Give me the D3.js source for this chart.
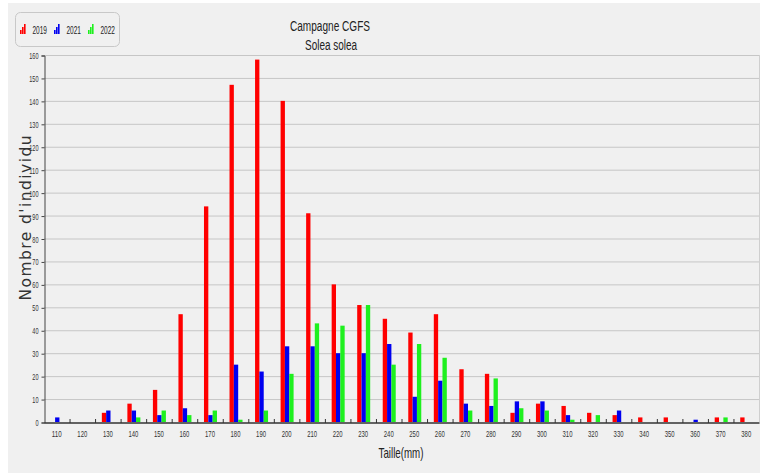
<!DOCTYPE html>
<html>
<head>
<meta charset="utf-8">
<script src="https://cdn.jsdelivr.net/npm/d3@7"></script>
<style>
  html, body { margin: 0; padding: 0; background: #ffffff; }
  svg { display: block; }
  .narrow { font-family: "Liberation Sans Narrow", "Liberation Sans", Arial, sans-serif; }
</style>
</head>
<body>
<svg id="chart" width="763" height="473"></svg>
<script>
// Length classes (mm)
const tailles = [110, 120, 130, 140, 150, 160, 170, 180, 190, 200, 210, 220, 230, 240,
                 250, 260, 270, 280, 290, 300, 310, 320, 330, 340, 350, 360, 370, 380];

// Number of individuals per length class, one array per survey year
const n2019 = [0, 0, 4, 8, 14, 47, 94, 147, 158, 140, 91, 60, 51, 45,
               39, 47, 23, 21, 4, 8, 7, 4, 3, 2, 2, 0, 2, 2];
const n2021 = [2, 0, 5, 5, 3, 6, 3, 25, 22, 33, 33, 30, 30, 34,
               11, 18, 8, 7, 9, 9, 3, 0, 5, 0, 0, 1, 0, 0];
const n2022 = [0, 0, 0, 2, 5, 3, 5, 1, 5, 21, 43, 42, 51, 25,
               34, 28, 5, 19, 6, 5, 1, 3, 0, 0, 0, 0, 2, 0];

const annees = ["2019", "2021", "2022"];
const couleurs = ["#ff0000", "#0000f0", "#1ef01e"];
const yTicks = d3.range(0, 161, 10);

const series = [n2019, n2021, n2022];
const rows = tailles.map((t, i) => ({ taille: t, values: series.map((s, k) => ({ annee: annees[k], v: s[i] })) }));

const svg = d3.select("#chart");

// Condensed text: squeeze glyphs to a given width per character
function condense(sel, perChar) {
  sel.each(function () {
    const t = d3.select(this);
    const n = t.text().length;
    t.attr("textLength", n * perChar).attr("lengthAdjust", "spacingAndGlyphs");
  });
}

// Background panel
svg.append("rect").attr("x", 8).attr("y", 3).attr("width", 752).attr("height", 470).attr("fill", "#f0f0f0");

const plotLeft = 44, plotRight = 759, plotTop = 55, plotBottom = 422;

const x = d3.scaleBand().domain(tailles).range([plotLeft, plotRight]).padding(0);
const x1 = d3.scaleBand().domain(annees).range([0, 13]).padding(0);
const y = d3.scaleLinear().domain([0, 160]).range([plotBottom, plotTop]);

// Horizontal grid
svg.append("g")
  .selectAll("line")
  .data(yTicks.filter(d => d > 0))
  .join("line")
  .attr("x1", plotLeft).attr("x2", plotRight)
  .attr("y1", d => y(d) + 0.5).attr("y2", d => y(d) + 0.5)
  .attr("stroke", "#c6c6c6").attr("stroke-width", 1);

// Right frame edge
svg.append("line")
  .attr("x1", plotRight + 0.5).attr("x2", plotRight + 0.5)
  .attr("y1", plotTop).attr("y2", plotBottom)
  .attr("stroke", "#cfcfcf");

// Bars
const groups = svg.append("g")
  .selectAll("g")
  .data(rows)
  .join("g")
  .attr("transform", d => `translate(${x(d.taille) + x.bandwidth() / 2 - 6},0)`);

groups.selectAll("rect")
  .data(d => d.values)
  .join("rect")
  .attr("x", d => x1(d.annee))
  .attr("width", x1.bandwidth())
  .attr("y", d => y(d.v))
  .attr("height", d => y(0) - y(d.v))
  .attr("fill", (d, i) => couleurs[i]);

// Y axis
const yAxis = d3.axisLeft(y).tickValues(yTicks).tickSize(3).tickPadding(3);
const gy = svg.append("g").attr("transform", `translate(${plotLeft + 0.5},0.5)`).call(yAxis);
gy.select(".domain").attr("stroke", "#444");
gy.selectAll(".tick line").attr("stroke", "#444");
gy.selectAll(".tick text").attr("class", "narrow").attr("font-size", 9.5).attr("fill", "#333")
  .call(condense, 3.1);

// X axis: labels centred on classes, tick marks between classes
const xAxis = d3.axisBottom(x).tickSize(0).tickPadding(8);
const gx = svg.append("g").attr("transform", `translate(0,${plotBottom + 0.5})`).call(xAxis);
gx.select(".domain").attr("stroke", "#333").attr("stroke-width", 1.5);
gx.selectAll(".tick text").attr("class", "narrow").attr("font-size", 9.5).attr("fill", "#333")
  .call(condense, 3.3);

svg.append("g")
  .selectAll("line")
  .data(tailles.slice(1))
  .join("line")
  .attr("x1", d => x(d) + 0.5).attr("x2", d => x(d) + 0.5)
  .attr("y1", plotBottom - 3).attr("y2", plotBottom + 1)
  .attr("stroke", "#333");

// Titles
svg.append("text").attr("class", "narrow")
  .attr("x", 330).attr("y", 31).attr("text-anchor", "middle")
  .attr("font-size", 14).attr("fill", "#222")
  .attr("textLength", 80).attr("lengthAdjust", "spacingAndGlyphs")
  .text("Campagne CGFS");
svg.append("text").attr("class", "narrow")
  .attr("x", 331).attr("y", 50).attr("text-anchor", "middle")
  .attr("font-size", 14).attr("fill", "#222")
  .attr("textLength", 52).attr("lengthAdjust", "spacingAndGlyphs")
  .text("Solea solea");

svg.append("text").attr("class", "narrow")
  .attr("x", 401).attr("y", 458).attr("text-anchor", "middle")
  .attr("font-size", 15).attr("fill", "#222")
  .attr("textLength", 45).attr("lengthAdjust", "spacingAndGlyphs")
  .text("Taille(mm)");

svg.append("text")
  .attr("transform", "translate(31,218) rotate(-90)")
  .attr("text-anchor", "middle")
  .attr("font-family", "'DejaVu Sans', Verdana, sans-serif")
  .attr("font-size", 15.5)
  .attr("textLength", 165).attr("lengthAdjust", "spacing")
  .attr("fill", "#333").text("Nombre d'individu");

// Legend
const lg = svg.append("g");
lg.append("rect").attr("x", 15.5).attr("y", 12.5).attr("width", 104).attr("height", 34)
  .attr("rx", 5).attr("fill", "#f0f0f0").attr("stroke", "#c8c8c8");
const legendX = [20, 54, 88];
annees.forEach((a, i) => {
  const g = lg.append("g").attr("transform", `translate(${legendX[i]},0)`);
  [4, 7, 10].forEach((h, j) => {
    g.append("rect").attr("x", j * 2).attr("y", 34 - h).attr("width", 1.6).attr("height", h).attr("fill", couleurs[i]);
  });
  g.append("text").attr("class", "narrow").attr("x", 12.5).attr("y", 33.5)
    .attr("font-size", 11.5).attr("fill", "#222")
    .attr("textLength", 14.5).attr("lengthAdjust", "spacingAndGlyphs")
    .text(a);
});
</script>
</body>
</html>
